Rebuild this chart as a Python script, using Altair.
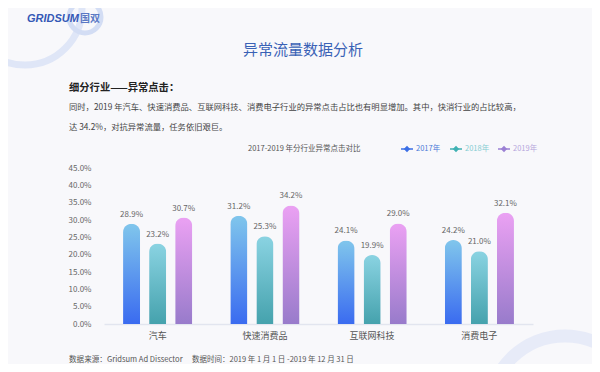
import altair as alt
import pandas as pd

# ---------------- data ----------------
categories = ["汽车", "快速消费品", "互联网科技", "消费电子"]
years = ["2017年", "2018年", "2019年"]
v2017 = [28.9, 31.2, 24.1, 24.2]
v2018 = [23.2, 25.3, 19.9, 21.0]
v2019 = [30.7, 34.2, 29.0, 32.1]
y_ticks = [0, 5, 10, 15, 20, 25, 30, 35, 40, 45]

logo_text = "GRIDSUM"
logo_cn = "国双"
page_title = "异常流量数据分析"
sub_title = "细分行业——异常点击："
para_1 = "同时，2019 年汽车、快速消费品、互联网科技、消费电子行业的异常点击占比也有明显增加。其中，快消行业的占比较高，"
para_2 = "达 34.2%，对抗异常流量，任务依旧艰巨。"
chart_title = "2017-2019 年分行业异常点击对比"
footer_source = "数据来源：Gridsum Ad Dissector"
footer_time = "数据时间：2019 年 1 月 1 日 -2019 年 12 月 31 日"

rows = []
for yr, vals in zip(years, [v2017, v2018, v2019]):
    for c, v in zip(categories, vals):
        rows.append({"cat": c, "year": yr, "value": v, "label": f"{v:.1f}%"})
df = pd.DataFrame(rows)

# ---------------- layout ----------------
FONT = "Noto Sans CJK SC"
W, H = 429, 156
X0, Y0 = 104, 168  # page position of the plot origin


def px(X):
    return X - X0


def py(Y):
    return Y - Y0


grad_colors = {
    "2017年": ("#80c6ec", "#3a6bf0"),
    "2018年": ("#8ad3e2", "#45a2ad"),
    "2019年": ("#eba1f3", "#987bcb"),
}
legend_marker = {"2017年": "#3b6fe6", "2018年": "#3fb1b3", "2019年": "#9b80d4"}
legend_text_col = {"2017年": "#4a7ad8", "2018年": "#86cdd2", "2019年": "#b6a6dc"}

x_enc = alt.X(
    "cat:N",
    sort=categories,
    scale=alt.Scale(paddingInner=0.355, paddingOuter=0.1776),
    axis=alt.Axis(
        title=None, labelAngle=0, ticks=False, domainColor="#e2e5ef",
        domainWidth=1.5, labelColor="#555555", labelFontSize=9,
        labelPadding=7, labelFont=FONT,
    ),
)
xo_enc = alt.XOffset(
    "year:N", sort=years,
    scale=alt.Scale(domain=years, paddingInner=0.346, paddingOuter=0),
)
y_enc = alt.Y(
    "value:Q",
    scale=alt.Scale(domain=[0, 45], nice=False),
    axis=alt.Axis(
        title=None, values=y_ticks,
        labelExpr="format(datum.value, '.1f') + '%'",
        domain=False, ticks=False, grid=False, labelPadding=13,
        labelFontSize=8, labelColor="#666666", labelFont=FONT,
    ),
)

base = alt.Chart(df)

shadow = base.mark_bar(
    xOffset=3, color="#d8d8f0", opacity=0.45,
    cornerRadiusTopLeft=8.5, cornerRadiusTopRight=8.5,
).encode(x=x_enc, xOffset=xo_enc, y=y_enc)

bar_layers = []
for yr in years:
    top, bottom = grad_colors[yr]
    grad = alt.Gradient(
        gradient="linear",
        stops=[alt.GradientStop(color=top, offset=0),
               alt.GradientStop(color=bottom, offset=1)],
        x1=0, x2=0, y1=0, y2=1,
    )
    bar_layers.append(
        base.transform_filter(alt.datum.year == yr)
        .mark_bar(color=grad, cornerRadiusTopLeft=8.5, cornerRadiusTopRight=8.5)
        .encode(x=x_enc, xOffset=xo_enc, y=y_enc)
    )

labels = base.mark_text(
    baseline="bottom", dy=-5, fontSize=8, color="#666666", font=FONT
).encode(x=x_enc, xOffset=xo_enc, y=y_enc, text="label:N")


def text_layer(txt, X, Y, size, color, align="left", weight="normal",
               font=FONT, italic=False):
    return alt.Chart(pd.DataFrame({"t": [txt]})).mark_text(
        align=align, baseline="middle", fontSize=size, color=color,
        fontWeight=weight, font=font, fontStyle="italic" if italic else "normal",
    ).encode(x=alt.value(px(X)), y=alt.value(py(Y)), text="t:N")


def ring(X, Y, r, width, color, opacity=1.0):
    return alt.Chart(pd.DataFrame({"a": [0]})).mark_point(
        shape="circle", filled=False, size=(2 * r) ** 2,
        stroke=color, strokeWidth=width, opacity=opacity,
    ).encode(x=alt.value(px(X)), y=alt.value(py(Y)))


deco = [
    ring(25, 8, 57, 7, "#dfe6f7"),
    ring(85, 17, 16, 5, "#d3ddf4"),
    ring(565, 412, 76, 13, "#e7ebf8"),
]

texts = [
    text_layer(logo_text, 27, 19, 11, "#3458b6", weight="bold",
               font="Liberation Sans", italic=True),
    text_layer(logo_cn, 80, 19, 10, "#5a78c4", weight="bold"),
    text_layer(page_title, 303, 50, 15, "#3a62b6", align="center"),
    text_layer(sub_title, 69, 88, 10.3, "#222222", weight="bold"),
    text_layer(para_1, 69, 108, 8.3, "#444444"),
    text_layer(para_2, 69, 128, 8.3, "#444444"),
    text_layer(chart_title, 248, 149, 7.5, "#555555"),
    text_layer(footer_source, 69, 360, 7.6, "#555555"),
    text_layer(footer_time, 192, 360, 7.5, "#555555"),
]

legend_layers = []
for yr, LX in zip(years, [407, 456, 504]):
    legend_layers.append(
        alt.Chart(pd.DataFrame({"a": [0]})).mark_rule(
            color=legend_marker[yr], strokeWidth=1.5
        ).encode(x=alt.value(px(LX - 6)), x2=alt.value(px(LX + 6)),
                 y=alt.value(py(149)))
    )
    legend_layers.append(
        alt.Chart(pd.DataFrame({"a": [0]})).mark_point(
            shape="diamond", filled=True, size=40, color=legend_marker[yr],
            opacity=1,
        ).encode(x=alt.value(px(LX)), y=alt.value(py(149)))
    )
    legend_layers.append(text_layer(yr, LX + 9, 149, 7.5, legend_text_col[yr]))

chart = alt.layer(
    *deco, shadow, *bar_layers, labels, *texts, *legend_layers
).properties(
    width=W, height=H,
    autosize=alt.AutoSizeParams(type="none"),
    padding={"left": X0 - 8, "top": Y0 - 8, "right": 584 - (X0 - 8) - W,
             "bottom": 356 - (Y0 - 8) - H},
    background="#f8f8fb",
).configure_view(stroke=None)

chart.save("out.html", embed_options={"renderer": "svg", "actions": False})
